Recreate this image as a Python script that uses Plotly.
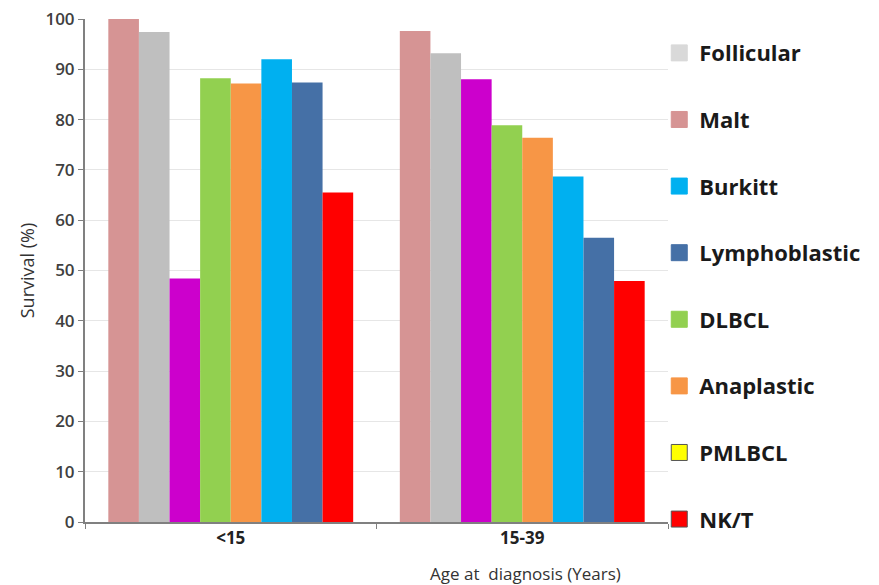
import plotly.graph_objects as go

groups = ["<15", "15-39"]
series = ["Malt", "Follicular", "PMLBCL", "DLBCL", "Anaplastic", "Burkitt", "Lymphoblastic", "NK/T"]
values = {
    "Malt": [100.0, 97.6],
    "Follicular": [97.4, 93.2],
    "PMLBCL": [48.4, 88.0],
    "DLBCL": [88.2, 78.9],
    "Anaplastic": [87.2, 76.4],
    "Burkitt": [92.0, 68.7],
    "Lymphoblastic": [87.4, 56.5],
    "NK/T": [65.5, 47.9],
}
bar_colors = {
    "Malt": "#D69494",
    "Follicular": "#BFBFBF",
    "PMLBCL": "#CC00CC",
    "DLBCL": "#92D050",
    "Anaplastic": "#F79646",
    "Burkitt": "#00B0F0",
    "Lymphoblastic": "#4570A6",
    "NK/T": "#FF0000",
}
legend_order = ["Follicular", "Malt", "Burkitt", "Lymphoblastic", "DLBCL", "Anaplastic", "PMLBCL", "NK/T"]
legend_colors = {
    "Follicular": "#D9D9D9",
    "Malt": "#D69494",
    "Burkitt": "#00B0F0",
    "Lymphoblastic": "#4570A6",
    "DLBCL": "#92D050",
    "Anaplastic": "#F79646",
    "PMLBCL": "#FFFF00",
    "NK/T": "#FF0000",
}
legend_lines = {"PMLBCL": "#555555", "NK/T": "#555555"}

fig = go.Figure()
for s in series:
    fig.add_trace(go.Bar(x=groups, y=values[s], name=s, marker_color=bar_colors[s],
                         marker_line_width=0, showlegend=False))
for i, s in enumerate(legend_order):
    fig.add_trace(go.Scatter(x=[None], y=[None], mode="markers", name=s, legendgroup=f"g{i}",
                             marker=dict(symbol="square", size=16, color=legend_colors[s],
                                         line=dict(color=legend_lines.get(s, legend_colors[s]), width=1)),
                             showlegend=True))

fig.update_layout(
    width=871, height=577,
    margin=dict(l=77, r=211, t=11, b=63, autoexpand=False),
    paper_bgcolor="white", plot_bgcolor="white",
    barmode="group", bargap=0.16, bargroupgap=0,
    font=dict(family="Open Sans, Noto Sans, sans-serif", color="#404040"),
    legend=dict(x=0.985, y=0.974, xanchor="left", yanchor="top",
                traceorder="grouped", tracegroupgap=35, maxheight=570,
                font=dict(size=22, color="#1a1a1a", weight="bold"),
                itemwidth=30, bgcolor="rgba(0,0,0,0)"),
    xaxis=dict(type="category", showline=True, linecolor="#808080", linewidth=1.5,
               ticks="outside", tickson="boundaries", ticklen=5, tickcolor="#808080",
               tickfont=dict(size=17, color="#222222", weight="bold"),
               showgrid=False),
    yaxis=dict(range=[0, 100], dtick=10, showline=True, linecolor="#808080", linewidth=2,
               ticks="outside", ticklen=5, tickcolor="#808080",
               tickfont=dict(size=17, color="#404040", weight=600),
               ticklabeloverflow="allow",
               gridcolor="#E6E6E6", gridwidth=1, zeroline=False,
               title=dict(text="Survival (%)", font=dict(size=18, color="#333333"), standoff=6)),
)
fig.add_annotation(text="Age at  diagnosis (Years)", xref="paper", yref="paper",
                   x=0.755, y=-0.102, xanchor="center", yanchor="middle", showarrow=False,
                   font=dict(size=17, color="#333333"))

fig.write_html("out.html")
